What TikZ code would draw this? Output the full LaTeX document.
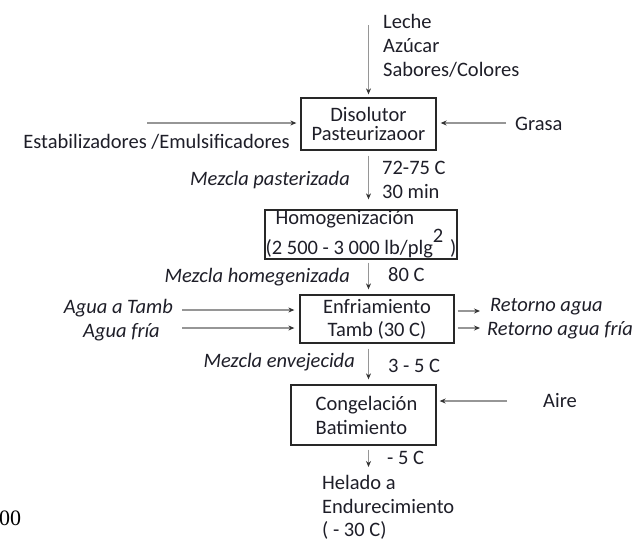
\documentclass[tikz,border=0pt]{standalone}
\usepackage{fontspec}
\setmainfont{Carlito}
\newfontfamily\pagefont{Liberation Serif}
\usetikzlibrary{arrows.meta,calc}
\definecolor{flowgray}{RGB}{150,150,150}
\definecolor{boxline}{RGB}{40,40,40}
\definecolor{txtdark}{RGB}{30,30,40}

\begin{document}
\begin{tikzpicture}[x=1pt, y=-1pt,
  every node/.style={font=\fontsize{20.5}{24}\selectfont, text=txtdark, inner sep=0pt},
  procbox/.style={draw=boxline, line width=1.3pt, align=center},
  flow/.style={draw=flowgray, line width=1.2pt, -{Stealth[length=6pt,width=5pt,black!80]}},
  lbl/.style={align=left},
  itlbl/.style={font=\fontsize{20.5}{24}\selectfont\itshape}]

\useasboundingbox (0,0) rectangle (635,541);

% Process boxes
\node[procbox, minimum width=135pt, minimum height=52pt] (disol) at (368.5,124) {Disolutor\\[-5pt]Pasteurizaoor};
\node[procbox, minimum width=192pt, minimum height=49pt, align=left] (homog) at (361,234.5) {%
  \hspace*{10pt}Homogenización\\(2 500 - 3 000 lb/plg\raisebox{12pt}{2}\,\,)};
\node[procbox, minimum width=154pt, minimum height=48pt] (enfr) at (377,319) {Enfriamiento\\[-1pt]Tamb (30 C)};
\node[procbox, minimum width=145pt, minimum height=60pt, align=left] (cong) at (363.5,415) {%
  \hspace*{6pt}Congelación\\\hspace*{6pt}Batimiento};

% Inputs and outputs
\node[lbl, anchor=west] (ingr) at (383,46) {Leche\\Azúcar\\Sabores/Colores};
\node[anchor=east] (establ) at (290,142) {Estabilizadores /Emulsificadores};
\node[anchor=west] (grasal) at (515,124) {Grasa};
\node[itlbl, anchor=east] (aguaTl) at (173,308) {Agua a Tamb};
\node[itlbl, anchor=east] (aguaFl) at (160,332) {Agua fría};
\node[itlbl, anchor=west] (retAl) at (490,307) {Retorno agua};
\node[itlbl, anchor=west] (retFl) at (487,330) {Retorno agua fría};
\node[anchor=west] (airel) at (543,401) {Aire};
\node[lbl, anchor=north west] (helado) at (322,475) {Helado a\\Endurecimiento\\[-1pt]( - 30 C)};

% Stream labels
\node[itlbl, anchor=east] (mpast) at (350,180) {Mezcla pasterizada};
\node[lbl, anchor=west] (t1) at (382,180) {72-75 C\\30 min};
\node[itlbl, anchor=east] (mhomo) at (350,277) {Mezcla homegenizada};
\node[anchor=west] (t2) at (388,275) {80 C};
\node[itlbl, anchor=east] (menv) at (355,362) {Mezcla envejecida};
\node[anchor=west] (t3) at (388,366) {3 - 5 C};
\node[anchor=west] (t4) at (387,458) {- 5 C};

\node[font=\pagefont\fontsize{22}{26}\selectfont, text=black, anchor=west] (pagenum) at (-1,518) {00};

% Free ends
\coordinate (topin) at (368.5,25);
\coordinate (estab) at (147,123);
\coordinate (grasa) at (506,123);
\coordinate (aguaT) at (182,310);
\coordinate (aguaF) at (182,328);
\coordinate (retA) at (480,311);
\coordinate (retF) at (480,328);
\coordinate (aire) at (507,401);

% Connecting arrows
\draw[flow, shorten >=3pt] (topin) -- (disol.north);
\draw[flow, shorten >=4pt] (estab) -- (estab -| disol.west);
\draw[flow, shorten >=4pt] (grasa) -- (grasa -| disol.east);
\draw[flow, shorten <=5pt, shorten >=10pt] (disol.south) -- (disol.south |- homog.north);
\draw[flow, shorten <=3pt, shorten >=5pt] (disol.south |- homog.south) -- (disol.south |- enfr.north);
\draw[flow, shorten >=5pt] (aguaT) -- (aguaT -| enfr.west);
\draw[flow, shorten >=5pt] (aguaF) -- (aguaF -| enfr.west);
\draw[flow, shorten <=3pt] (retA -| enfr.east) -- (retA);
\draw[flow, shorten <=3pt] (retF -| enfr.east) -- (retF);
\draw[flow, shorten <=5pt, shorten >=5pt] (disol.south |- enfr.south) -- (disol.south |- cong.north);
\draw[flow, shorten >=3pt] (aire) -- (aire -| cong.east);
\draw[flow, shorten <=4pt, shorten >=8pt] (disol.south |- cong.south) -- (disol.south |- helado.north);

\end{tikzpicture}
\end{document}
